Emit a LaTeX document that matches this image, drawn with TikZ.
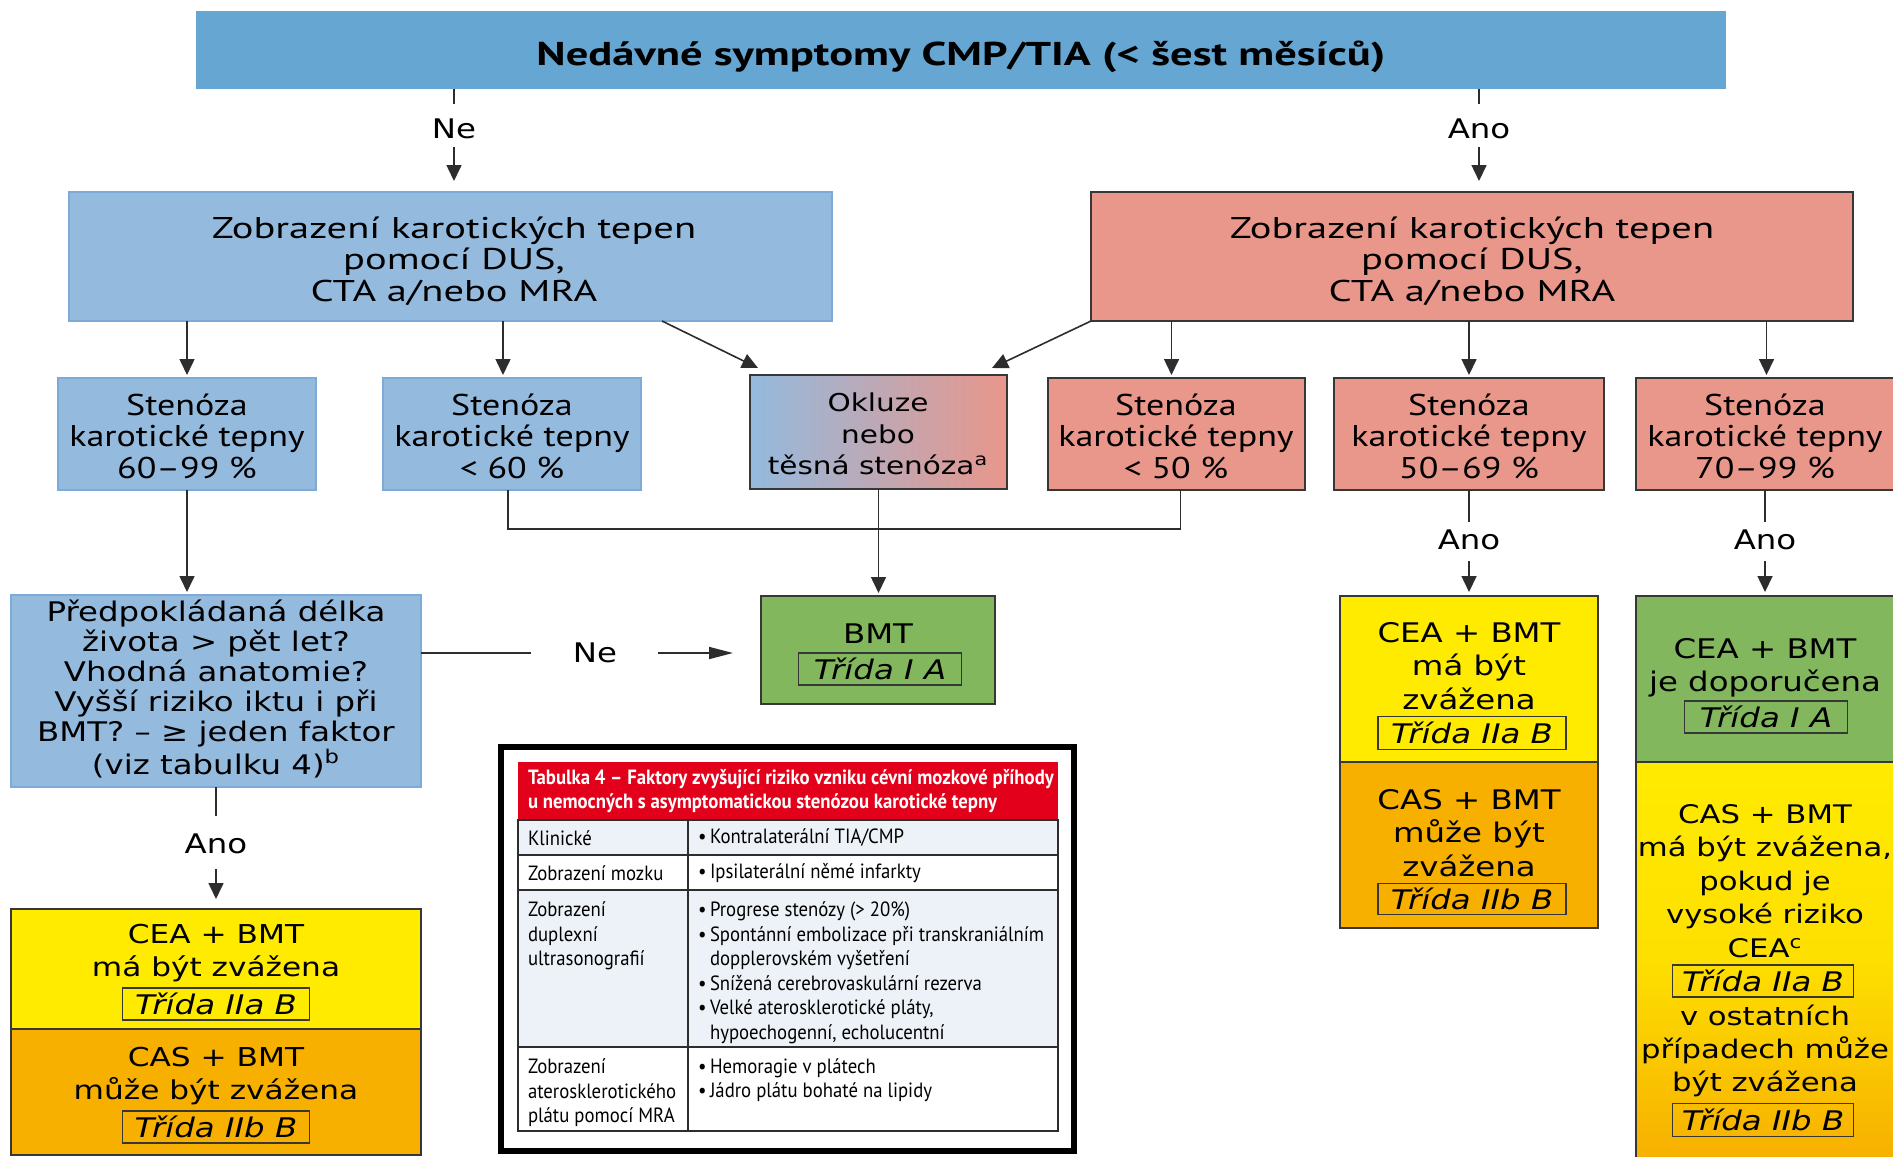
\documentclass[tikz,border=0pt]{standalone}
\usepackage{fontspec}
\setmainfont{DejaVu Sans}[FakeStretch=1.2]
\newfontfamily\myr{PT Sans}[FakeStretch=1.35]
\newfontfamily\myrn{PT Sans}[FakeStretch=1.2]
\newfontfamily\tabf{PT Sans}[FakeStretch=0.91]
\usetikzlibrary{calc,arrows.meta}
\definecolor{topblue}{RGB}{102,166,210}
\definecolor{lblue}{RGB}{148,186,222}
\definecolor{lbluedk}{RGB}{125,170,215}
\definecolor{salmon}{RGB}{233,150,139}
\definecolor{grn}{RGB}{130,183,94}
\definecolor{ylw}{RGB}{255,235,0}
\definecolor{orng}{RGB}{247,176,0}
\definecolor{hdred}{RGB}{226,0,26}
\definecolor{rowbg}{RGB}{237,242,248}
\definecolor{lncol}{RGB}{45,45,45}
\definecolor{bdr}{RGB}{55,55,55}
\tikzset{
  every node/.style={inner sep=0pt, outer sep=0pt},
  dv/.style={font=\fontsize{13.5}{15}\selectfont, align=center},
  dvs/.style={font=\fontsize{13.5}{16.7}\selectfont, align=center},
  dvf/.style={font=\fontsize{12.8}{16.7}\selectfont, align=center},
  my/.style={font=\myr\fontsize{15}{15.7}\selectfont, align=center},
  myn/.style={font=\myrn\fontsize{15}{15.7}\selectfont, align=center},
  ttl/.style={font=\myr\bfseries\fontsize{16.5}{18}\selectfont},
  tbt/.style={font=\tabf\fontsize{10.3}{12.25}\selectfont, align=left},
  ln/.style={draw=lncol, line width=0.8pt},
  arr/.style={ln, -{Triangle[length=8pt,width=7.5pt]}},
  harr/.style={ln, -{Triangle[length=12pt,width=6pt]}},
  trida/.style={draw=bdr, line width=0.7pt, font=\itshape\fontsize{13.5}{15}\selectfont},
  dk/.style={draw=bdr, line width=0.75pt},
  lb/.style={fill=lblue, draw=lbluedk, line width=0.6pt},
  cell/.style={draw=lncol, line width=0.9pt},
}
\newcommand\rbox[6]{\node[#6, minimum width={(#4-#2)*0.5pt}, minimum height={(#5-#3)*0.5pt}] (#1) at ({(#2+#4)/2},{(#3+#5)/2}) {};}
\newcommand\bul{\makebox[6pt][l]{•}}
\newcommand\hng{\hspace*{6pt}}
\begin{document}
\begin{tikzpicture}[x=0.5pt,y=-0.5pt]
\useasboundingbox (0,0) rectangle (1893,1156);
\fill[white] (0,0) rectangle (1893,1156);
\clip (0,0) rectangle (1893,1156);
% top
\rbox{top}{196}{11}{1726}{89}{fill=topblue}
\node[ttl] (ttl) at (961,57) {Nedávné symptomy CMP/TIA (< šest měsíců)};
\node[dv] (nel) at (454,129) {Ne};
\node[dv] (anl) at (1479,129) {Ano};
% big boxes
\rbox{lbig}{69}{192}{832}{321}{lb}
\rbox{rbig}{1091}{192}{1853}{321}{fill=salmon,dk}
\node[my] (lbigt) at (454,261) {Zobrazení karotických tepen\\pomocí DUS,\\CTA a/nebo MRA};
\node[my] (rbigt) at (1472,261) {Zobrazení karotických tepen\\pomocí DUS,\\CTA a/nebo MRA};
% row 2
\rbox{sA}{58}{378}{316}{490}{lb}
\rbox{sB}{383}{378}{641}{490}{lb}
\rbox{sC}{750}{375}{1007}{489}{left color=lblue,right color=salmon,dk}
\rbox{sD}{1048}{378}{1305}{490}{fill=salmon,dk}
\rbox{sE}{1334}{378}{1604}{490}{fill=salmon,dk}
\rbox{sF}{1636}{378}{1897}{490}{fill=salmon,dk}
\node[myn] (tA) at (187,436) {Stenóza\\karotické tepny\\60–99 \%};
\node[myn] (tB) at (512,436) {Stenóza\\karotické tepny\\< 60 \%};
\node[dv, font=\fontsize{12.3}{15.7}\selectfont] (tC) at (878,434) {Okluze\\nebo\\těsná stenóza\textsuperscript{a}};
\node[myn] (tD) at (1176,436) {Stenóza\\karotické tepny\\< 50 \%};
\node[myn] (tE) at (1469,436) {Stenóza\\karotické tepny\\50–69 \%};
\node[myn] (tF) at (1765,436) {Stenóza\\karotické tepny\\70–99 \%};
% question box and BMT
\rbox{q}{11}{595}{421}{787}{lb}
\node[dv] (tq) at (216,689) {Předpokládaná délka\\života > pět let?\\Vhodná anatomie?\\Vyšší riziko iktu i při\\BMT? – ≥ jeden faktor\\(viz tabulku 4)\textsuperscript{b}};
\rbox{bmt}{761}{596}{995}{704}{fill=grn,dk}
\node[dv] (tbmt) at (878,634) {BMT};
\node[trida, minimum width={163*0.5pt}, minimum height={32*0.5pt}] (tr1) at (880,669) {Třída I A};
\node[dv] (nel2) at (595,653) {Ne};
% bottom-left stack
\node[dv] (qa) at (216,844) {Ano};
\rbox{ly}{11}{909}{421}{1029}{fill=ylw,dk}
\rbox{lo}{11}{1029}{421}{1155}{fill=orng,dk}
\node[dvs, font=\fontsize{13}{16.7}\selectfont] (tly) at (216,953) {CEA + BMT\\má být zvážena};
\node[trida, minimum width={187*0.5pt}, minimum height={32*0.5pt}] (tr2) at (216,1004) {Třída IIa B};
\node[dvs, font=\fontsize{13}{16.7}\selectfont] (tlo) at (216,1076) {CAS + BMT\\může být zvážena};
\node[trida, minimum width={187*0.5pt}, minimum height={32*0.5pt}] (tr3) at (216,1127) {Třída IIb B};
% E stack
\node[dv] (ea) at (1469,540) {Ano};
\rbox{ey}{1340}{596}{1598}{762}{fill=ylw,dk}
\rbox{eo}{1340}{762}{1598}{928}{fill=orng,dk}
\node[dvs] (tey) at (1469,666) {CEA + BMT\\má být\\zvážena};
\node[trida, minimum width={188*0.5pt}, minimum height={33*0.5pt}] (tr4) at (1472,733) {Třída IIa B};
\node[dvs] (teo) at (1469,833) {CAS + BMT\\může být\\zvážena};
\node[trida, minimum width={188*0.5pt}, minimum height={31*0.5pt}] (tr5) at (1472,899) {Třída IIb B};
% F stack
\node[dv] (fa) at (1765,540) {Ano};
\rbox{fg}{1636}{596}{1897}{762}{fill=grn,dk}
\rbox{fyo}{1636}{762}{1897}{1158}{top color=ylw,bottom color=orng,middle color=ylw!80!orng,dk}
\node[dvs] (tfg) at (1765,668) {CEA + BMT\\je doporučena};
\node[trida, minimum width={163*0.5pt}, minimum height={32*0.5pt}] (tr6) at (1766,717) {Třída I A};
\node[dvf] (tfy1) at (1765,881) {CAS + BMT\\má být zvážena,\\pokud je\\vysoké riziko\\CEA\textsuperscript{c}};
\node[trida, minimum width={181*0.5pt}, minimum height={32*0.5pt}] (tr7) at (1763,981) {Třída IIa B};
\node[dvf] (tfy2) at (1765,1051) {v ostatních\\případech může\\být zvážena};
\node[trida, minimum width={181*0.5pt}, minimum height={33*0.5pt}] (tr8) at (1763,1120) {Třída IIb B};
% connectors top
\draw[ln] (nel.north |- top.south) -- ($(nel.center)+(0,-25)$);
\draw[arr] ($(nel.center)+(0,18)$) -- ($(nel.center |- lbig.north)+(0,-11)$);
\draw[ln] (anl.north |- top.south) -- ($(anl.center)+(0,-25)$);
\draw[arr] ($(anl.center)+(0,18)$) -- ($(anl.center |- rbig.north)+(0,-11)$);
% from left big
\draw[arr] (sA.north |- lbig.south) -- ($(sA.north)+(0,-3)$);
\draw[arr] ($(sB.north |- lbig.south)+(-9,0)$) -- ($(sB.north)+(-9,-3)$);
\draw[arr] ($(lbig.south west)+(593,0)$) -- ($(sC.north west)+(8,-7)$);
% from right big
\draw[arr] ($(rbig.south west)$) -- ($(sC.north east)+(-15,-7)$);
\draw[arr] ($(sD.north |- rbig.south)+(-5,0)$) -- ($(sD.north)+(-5,-3)$);
\draw[arr] (sE.north |- rbig.south) -- ($(sE.north)+(0,-3)$);
\draw[arr] (sF.north |- rbig.south) -- ($(sF.north)+(0,-3)$);
% to BMT
\draw[ln] ($(sB.south)+(-4,0)$) -- ++(0,39) -| ($(sD.south)+(4,0)$);
\draw[arr] (sC.south) -- ($(sC.south |- bmt.north)+(0,-3)$);
\draw[arr] (sA.south) -- ($(sA.south |- q.north)+(0,-3)$);
\draw[ln] (q.east |- nel2.center) -- ($(nel2.center)+(-64,0)$);
\draw[harr] ($(nel2.center)+(63,0)$) -- ($(bmt.west |- nel2.center)+(-28,0)$);
% question -> Ano
\draw[ln] (qa.north |- q.south) -- ($(qa.center)+(0,-28)$);
\draw[arr] ($(qa.center)+(0,25)$) -- ($(qa.center |- ly.north)+(0,-10)$);
% E, F
\draw[ln] (ea.north |- sE.south) -- ($(ea.center)+(0,-18)$);
\draw[arr] ($(ea.center)+(0,21)$) -- ($(ea.center |- ey.north)+(0,-4)$);
\draw[ln] (fa.north |- sF.south) -- ($(fa.center)+(0,-18)$);
\draw[arr] ($(fa.center)+(0,21)$) -- ($(fa.center |- fg.north)+(0,-4)$);
% table
\rbox{tf}{501}{747}{1074}{1151}{fill=white,draw=black,line width=3pt}
\rbox{th}{518}{762}{1058}{820}{fill=hdred}
\rbox{r1}{518}{820}{1058}{855}{fill=rowbg,cell}
\rbox{r2}{518}{855}{1058}{890}{fill=white,cell}
\rbox{r3}{518}{890}{1058}{1047}{fill=rowbg,cell}
\rbox{r4}{518}{1047}{1058}{1131}{fill=white,cell}
\coordinate (colx) at (688,820);
\draw[cell] (colx) -- (colx |- r4.south);
\node[tbt, anchor=west, text=white, font=\tabf\bfseries\fontsize{10.3}{11.6}\selectfont] (thx) at (528,791) {Tabulka 4 – Faktory zvyšující riziko vzniku cévní mozkové příhody\\u nemocných s asymptomatickou stenózou karotické tepny};
\node[tbt, anchor=west] (c11) at (528,838) {Klinické};
\node[tbt, anchor=west] (c12) at (698,838) {\bul Kontralaterální TIA/CMP};
\node[tbt, anchor=west] (c21) at (528,873) {Zobrazení mozku};
\node[tbt, anchor=west] (c22) at (698,873) {\bul Ipsilaterální němé infarkty};
\node[tbt, anchor=west] (c31) at (528,936) {Zobrazení\\duplexní\\ultrasonografií};
\node[tbt, anchor=west] (c32) at (698,973) {\bul Progrese stenózy (> 20\%)\\\bul Spontánní embolizace při transkraniálním\\\hng dopplerovském vyšetření\\\bul Snížená cerebrovaskulární rezerva\\\bul Velké aterosklerotické pláty,\\\hng hypoechogenní, echolucentní};
\node[tbt, anchor=west] (c41) at (528,1093) {Zobrazení\\aterosklerotického\\plátu pomocí MRA};
\node[tbt, anchor=west] (c42) at (698,1080) {\bul Hemoragie v plátech\\\bul Jádro plátu bohaté na lipidy};
\end{tikzpicture}
\end{document}
